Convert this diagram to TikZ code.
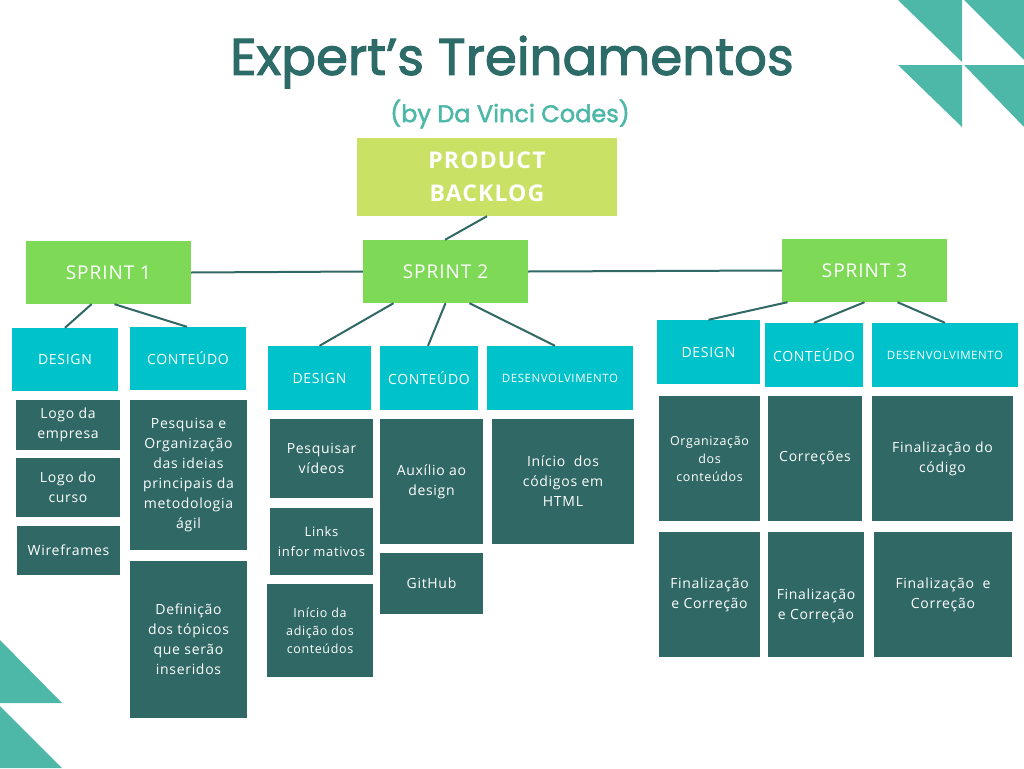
\documentclass[tikz,border=0pt]{standalone}
\usepackage{fontspec}
\usepackage{tikz}
\usetikzlibrary{positioning}
\setmainfont{Open Sans}
\newfontfamily\titlefont{Poppins}[FakeBold=2]
\newfontfamily\boxfont{Open Sans}[LetterSpace=5]
\definecolor{triteal}{RGB}{77,184,168}
\definecolor{titleteal}{RGB}{44,107,103}
\definecolor{backloggreen}{RGB}{201,226,101}
\definecolor{sprintgreen}{RGB}{126,217,87}
\definecolor{areacyan}{RGB}{0,194,203}
\definecolor{taskteal}{RGB}{47,104,101}

\begin{document}
\begin{tikzpicture}[x=1pt, y=-1pt,
    every node/.style={inner sep=0pt, align=center, text=white},
    backlog/.style={fill=backloggreen, font=\boxfont\bfseries\fontsize{23}{33}\selectfont},
    sprint/.style={fill=sprintgreen, minimum width=165pt, minimum height=63pt, font=\boxfont\fontsize{19}{24}\selectfont},
    area/.style={fill=areacyan, minimum height=64pt, font=\boxfont\fontsize{14}{18}\selectfont},
    task/.style={fill=taskteal, font=\boxfont\fontsize{14}{20}\selectfont},
    link/.style={draw=taskteal, line width=2pt}]
    \useasboundingbox[fill=white] (0,0) rectangle (1024,768);
    % corner triangles
    \fill[triteal] (898,0) -- (962,0) -- (962,62) -- cycle;
    \fill[triteal] (964,0) -- (1024,0) -- (1024,60) -- cycle;
    \fill[triteal] (898,65) -- (962,65) -- (962,127) -- cycle;
    \fill[triteal] (964,65) -- (1024,65) -- (1024,127) -- cycle;
    \fill[triteal] (0,640) -- (62,703) -- (0,703) -- cycle;
    \fill[triteal] (0,706) -- (62,768) -- (0,768) -- cycle;
    % title
    \node[text=titleteal, font=\titlefont\fontsize{51.5}{56}\selectfont] (title) at (512,62) {Expert’s Treinamentos};
    \node[text=triteal, font=\titlefont\fontsize{24}{28}\selectfont] (subtitle) at (510,114) {(by Da Vinci Codes)};
    % backlog and sprints
    \node[backlog, minimum width=260pt, minimum height=78pt] (bl) at (487,177) {PRODUCT\\BACKLOG};
    \node[sprint] (s1) at (108.5,272.5) {SPRINT 1};
    \node[sprint] (s2) at (445.5,271.5) {SPRINT 2};
    \node[sprint] (s3) at (864.5,270.5) {SPRINT 3};
    % areas
    \node[area, minimum width=106pt, minimum height=63pt] (d1) at (65,359.5) {DESIGN};
    \node[area, minimum width=116pt, minimum height=63pt] (c1) at (188,358.5) {CONTEÚDO};
    \node[area, minimum width=103pt] (d2) at (319.5,378) {DESIGN};
    \node[area, minimum width=98pt] (c2) at (429,378) {CONTEÚDO};
    \node[area, minimum width=146pt, font=\boxfont\fontsize{11.5}{14}\selectfont] (v2) at (560,378) {DESENVOLVIMENTO};
    \node[area, minimum width=103pt] (d3) at (708.5,352) {DESIGN};
    \node[area, minimum width=98pt] (c3) at (814,355) {CONTEÚDO};
    \node[area, minimum width=146pt, font=\boxfont\fontsize{11.5}{14}\selectfont] (v3) at (945,355) {DESENVOLVIMENTO};
    % tasks, sprint 1
    \node[task, minimum width=104pt, minimum height=50pt] (t1a) at (68,425) {Logo da\\empresa};
    \node[task, minimum width=104pt, minimum height=59pt] (t1b) at (68,487.5) {Logo do\\curso};
    \node[task, minimum width=103pt, minimum height=49pt] (t1c) at (68.5,550.5) {Wireframes};
    \node[task, minimum width=117pt, minimum height=150pt] (t1d) at (188.5,475) {Pesquisa e\\Organização\\das ideias\\principais da\\metodologia\\ágil};
    \node[task, minimum width=117pt, minimum height=157pt] (t1e) at (188.5,639.5) {Definição\\dos tópicos\\que serão\\inseridos};
    % tasks, sprint 2
    \node[task, minimum width=103pt, minimum height=79pt] (t2a) at (321.5,458.5) {Pesquisar\\vídeos};
    \node[task, minimum width=103pt, minimum height=67pt, font=\boxfont\fontsize{13}{20}\selectfont] (t2b) at (321.5,541.5) {Links\\infor mativos};
    \node[task, minimum width=106pt, minimum height=93pt, font=\boxfont\fontsize{12.5}{18}\selectfont] (t2c) at (320,630.5) {Início da\\adição dos\\conteúdos};
    \node[task, minimum width=103pt, minimum height=125pt] (t2d) at (431.5,481.5) {Auxílio ao\\design};
    \node[task, minimum width=103pt, minimum height=61pt] (t2e) at (431.5,583.5) {GitHub};
    \node[task, minimum width=142pt, minimum height=125pt] (t2f) at (563,481.5) {Início~ dos\\códigos em\\HTML};
    % tasks, sprint 3
    \node[task, minimum width=101pt, minimum height=125pt, font=\boxfont\fontsize{12.5}{18}\selectfont] (t3a) at (709.5,458.5) {Organização\\dos\\conteúdos};
    \node[task, minimum width=94pt, minimum height=125pt] (t3b) at (815,458.5) {Correções};
    \node[task, minimum width=141pt, minimum height=125pt] (t3c) at (942.5,458.5) {Finalização do\\código};
    \node[task, minimum width=101pt, minimum height=125pt] (t3d) at (709.5,594.5) {Finalização\\e Correção};
    \node[task, minimum width=96pt, minimum height=125pt, text depth=0pt] (t3e) at (816,594.5) {\raisebox{-10pt}{\parbox{96pt}{\centering Finalização\\e Correção}}};
    \node[task, minimum width=138pt, minimum height=125pt] (t3f) at (943,594.5) {Finalização~ e\\Correção};
    % connectors
    \draw[link] (bl.south) -- ([xshift=-0.5pt]s2.north);
    \draw[link] (s1.east) -- (s2.west);
    \draw[link] (s2.east) -- (s3.west);
    \draw[link] ([xshift=-17pt]s1.south) -- (d1.north);
    \draw[link] ([xshift=6pt]s1.south) -- ([xshift=-1pt]c1.north);
    \draw[link] ([xshift=-52pt]s2.south) -- (d2.north);
    \draw[link] (s2.south) -- ([xshift=-1pt]c2.north);
    \draw[link] ([xshift=24pt]s2.south) -- ([xshift=-5pt]v2.north);
    \draw[link] ([xshift=-77pt]s3.south) -- (d3.north);
    \draw[link] (s3.south) -- (c3.north);
    \draw[link] ([xshift=33pt]s3.south) -- (v3.north);
\end{tikzpicture}
\end{document}
